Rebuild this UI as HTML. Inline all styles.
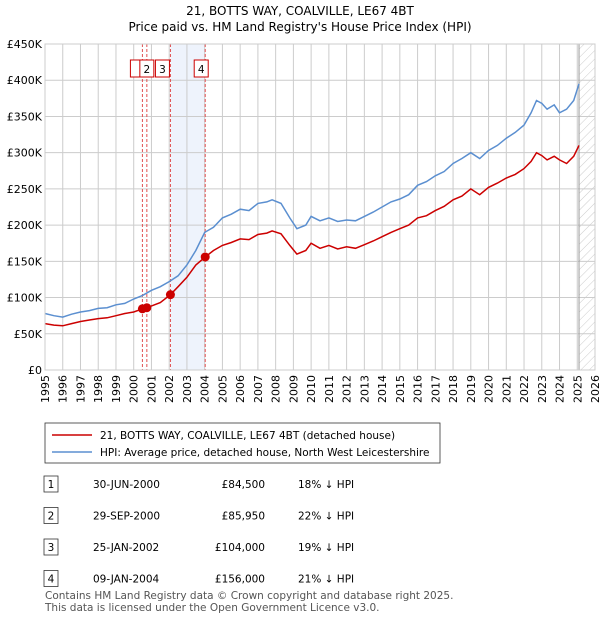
<!DOCTYPE html>
<html><head><meta charset="utf-8"><style>
body{margin:0;background:#fff;font-family:"Liberation Sans","DejaVu Sans",sans-serif;}
svg text{font-family:"DejaVu Sans","Liberation Sans",sans-serif;}
</style></head><body>
<svg width="600" height="620" viewBox="0 0 600 620">
<text x="300" y="15" text-anchor="middle" font-size="12">21, BOTTS WAY, COALVILLE, LE67 4BT</text>
<text x="300" y="31" text-anchor="middle" font-size="12">Price paid vs. HM Land Registry's House Price Index (HPI)</text>
<defs><pattern id="hatch" width="6" height="6" patternUnits="userSpaceOnUse" patternTransform="rotate(45)"><line x1="0" y1="0" x2="0" y2="6" stroke="#ccc" stroke-width="1"/></pattern></defs>
<g id="plot"></g>
<g id="legend">
<rect x="45" y="423" width="395" height="40" fill="#fff" stroke="#333" stroke-width="0.8"/>
<line x1="52" y1="435" x2="92" y2="435" stroke="#cc0000" stroke-width="1.5"/>
<text x="100" y="439" font-size="10.5">21, BOTTS WAY, COALVILLE, LE67 4BT (detached house)</text>
<line x1="52" y1="452" x2="92" y2="452" stroke="#5b8fd0" stroke-width="1.5"/>
<text x="100" y="456" font-size="10.5">HPI: Average price, detached house, North West Leicestershire</text>
</g>
<g id="table" font-size="10.5"></g>
<text x="45" y="599" font-size="10.5" fill="#555">Contains HM Land Registry data © Crown copyright and database right 2025.</text>
<text x="45" y="611" font-size="10.5" fill="#555">This data is licensed under the Open Government Licence v3.0.</text>
</svg>
<script>
const hpiYears=[1995,1995.5,1996,1996.5,1997,1997.5,1998,1998.5,1999,1999.5,2000,2000.5,2001,2001.5,2002,2002.5,2003,2003.5,2004,2004.5,2005,2005.5,2006,2006.5,2007,2007.5,2007.8,2008.3,2008.8,2009.2,2009.7,2010,2010.5,2011,2011.5,2012,2012.5,2013,2013.5,2014,2014.5,2015,2015.5,2016,2016.5,2017,2017.5,2018,2018.5,2019,2019.5,2020,2020.5,2021,2021.5,2022,2022.4,2022.7,2023,2023.3,2023.7,2024,2024.4,2024.8,2025.1];
const hpiValues=[78000,75000,73000,77000,80000,82000,85000,86000,90000,92000,98000,103000,110000,115000,122000,130000,145000,165000,190000,197000,210000,215000,222000,220000,230000,232000,235000,230000,210000,195000,200000,212000,206000,210000,205000,207000,206000,212000,218000,225000,232000,236000,242000,255000,260000,268000,274000,285000,292000,300000,292000,303000,310000,320000,328000,338000,355000,372000,368000,360000,366000,355000,360000,372000,395000];
const priceYears=[1995,1995.5,1996,1996.5,1997,1997.5,1998,1998.5,1999,1999.5,2000,2000.5,2000.75,2001.5,2002.07,2002.5,2003,2003.5,2004.03,2004.5,2005,2005.5,2006,2006.5,2007,2007.5,2007.8,2008.3,2008.8,2009.2,2009.7,2010,2010.5,2011,2011.5,2012,2012.5,2013,2013.5,2014,2014.5,2015,2015.5,2016,2016.5,2017,2017.5,2018,2018.5,2019,2019.5,2020,2020.5,2021,2021.5,2022,2022.4,2022.7,2023,2023.3,2023.7,2024,2024.4,2024.8,2025.1];
const priceValues=[64000,62000,61000,64000,67000,69000,71000,72000,75000,78000,80000,84500,85950,93000,104000,115000,128000,145000,156000,165000,172000,176000,181000,180000,187000,189000,192000,188000,172000,160000,165000,175000,168000,172000,167000,170000,168000,173000,178000,184000,190000,195000,200000,210000,213000,220000,226000,235000,240000,250000,242000,252000,258000,265000,270000,278000,288000,300000,296000,290000,295000,290000,285000,295000,310000];
const saleDates=[2000.49,2000.74,2002.07,2004.03];
const saleLabels=["1","2","3","4"];
const saleDateText=["30-JUN-2000","29-SEP-2000","25-JAN-2002","09-JAN-2004"];
const salePriceText=["£84,500","£85,950","£104,000","£156,000"];
const salePct=["18% ↓ HPI","22% ↓ HPI","19% ↓ HPI","21% ↓ HPI"];
const saleValues=[84500,85950,104000,156000];
const yTicks=[0,50000,100000,150000,200000,250000,300000,350000,400000,450000];
const yTickLabels=["£0","£50K","£100K","£150K","£200K","£250K","£300K","£350K","£400K","£450K"];
const xTicks=[1995,1996,1997,1998,1999,2000,2001,2002,2003,2004,2005,2006,2007,2008,2009,2010,2011,2012,2013,2014,2015,2016,2017,2018,2019,2020,2021,2022,2023,2024,2025,2026];

const NS="http://www.w3.org/2000/svg";
const X0=45,X1=595,Y0=370,Y1=44;
const xs=v=>X0+(v-1995)/(2026-1995)*(X1-X0);
const ys=v=>Y0-v/450000*(Y0-Y1);
const plot=document.getElementById('plot');
function mk(t,a,p){const e=document.createElementNS(NS,t);for(const k in a)e.setAttribute(k,a[k]);(p||plot).appendChild(e);return e;}
let band=mk('rect',{x:xs(saleDates[2]),y:Y1,width:xs(saleDates[3])-xs(saleDates[2]),height:Y0-Y1,fill:'#eef3fc'});


let hatch=mk('rect',{x:xs(2025.1),y:Y1,width:X1-xs(2025.1),height:Y0-Y1,fill:'url(#hatch)'});


xTicks.forEach((t,i)=>{
 const g=mk('line',{x1:xs(t),x2:xs(t),y1:Y1,y2:Y0,stroke:'#ccc','stroke-width':1});
 
 
 const px=xs(t)+4,py=Y0+5;
 const tx=mk('text',{x:px,y:py,'text-anchor':'end','font-size':11,transform:`rotate(-90 ${px} ${py})`});
 tx.textContent=t;
 
 
});
yTicks.forEach((t,i)=>{
 const g=mk('line',{x1:X0,x2:X1,y1:ys(t),y2:ys(t),stroke:'#ccc','stroke-width':1});
 
 
 const tx=mk('text',{x:X0-3,y:ys(t)+4,'text-anchor':'end','font-size':11});
 tx.textContent=yTickLabels[i];
 
 
});
let vl=mk('line',{x1:xs(2025.1),x2:xs(2025.1),y1:Y1,y2:Y0,stroke:'#999','stroke-width':1});


saleDates.forEach((d,i)=>{
 const l=mk('line',{x1:xs(d),x2:xs(d),y1:Y1,y2:Y0,stroke:'#e05050','stroke-width':1,'stroke-dasharray':'3,2'});
 
 
});
const pts=(xa,va)=>xa.map((x,i)=>xs(x).toFixed(1)+','+ys(va[i]).toFixed(1)).join(' ');
let hl=mk('polyline',{points:pts(hpiYears,hpiValues),fill:'none',stroke:'#5b8fd0','stroke-width':1.5});


let pl=mk('polyline',{points:pts(priceYears,priceValues),fill:'none',stroke:'#cc0000','stroke-width':1.5});


const boxOff=[-12,-7,-15,-11];
saleDates.forEach((d,i)=>{
 const c=mk('circle',{cx:xs(d),cy:ys(saleValues[i]),r:4.5,fill:'#cc0000'});
 
 
 const bx=xs(d)+boxOff[i];
 const r=mk('rect',{x:bx,y:60,width:14,height:17,fill:'#fff',stroke:'#cc0000','stroke-width':1});
 
 
 const t=mk('text',{x:bx+7,y:73,'text-anchor':'middle','font-size':10.5});
 t.textContent=i===0?'':saleLabels[i];
 
 
});
let fr=mk('rect',{x:X0,y:Y1,width:X1-X0,height:Y0-Y1,fill:'none',stroke:'#ccc'});


const tbl=document.getElementById('table');
saleLabels.forEach((s,i)=>{
 const y=487+i*31.5;
 const r=mk('rect',{x:44,y:y-11,width:14,height:16,fill:'#fff',stroke:'#333','stroke-width':0.8},tbl);
 
 
 const cells=[[51,'middle',s],[93,'start',saleDateText[i]],[265,'end',salePriceText[i]],[298,'start',salePct[i]]];
 cells.forEach(c=>{const t=mk('text',{x:c[0],y:y+1,'text-anchor':c[1]},tbl);t.textContent=c[2];
 
 });
});
</script>
</body></html>
